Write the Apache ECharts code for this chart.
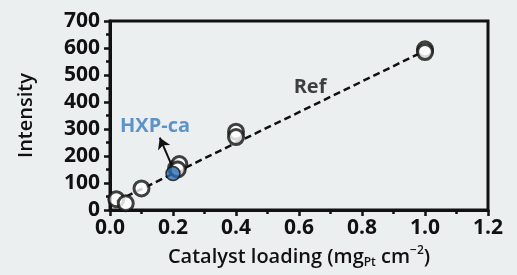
<!DOCTYPE html>
<html><head><meta charset="utf-8">
<script src="https://cdn.jsdelivr.net/npm/echarts@6/dist/echarts.min.js"></script>
<style>html,body{margin:0;padding:0;background:#ecefef;}#c{width:517px;height:275px;}</style>
</head><body><div id="c"></div>
<script>
// Data
const refX = [0.02, 0.05, 0.10, 0.21, 0.22, 0.215, 0.40, 0.40, 1.00, 1.00];
const refY = [40, 25, 80, 155, 170, 150, 290, 270, 595, 585];
const hxpX = [0.20];
const hxpY = [135];
const fitX = [0.02, 1.00];
const fitY = [32, 590];
const arrowFrom = [0.196, 165];
const arrowTo = [0.158, 268];
const refLabel = {x: 0.635, y: 455, text: 'Ref'};
const hxpLabel = {x: 0.143, y: 311, text: 'HXP-ca'};
const xTicks = [0.0, 0.2, 0.4, 0.6, 0.8, 1.0, 1.2];
const yTicks = [0, 100, 200, 300, 400, 500, 600, 700];

const FONT = '"Open Sans", "Noto Sans", sans-serif';
const chart = echarts.init(document.getElementById('c'));
const axisCommon = {
  axisLine: {show: true, onZero: false, lineStyle: {color: '#111', width: 3}},
  axisTick: {show: true, inside: false, length: 6, lineStyle: {color: '#111', width: 2.5}},
  minorTick: {show: true, splitNumber: 2, length: 4, lineStyle: {color: '#111', width: 2.5}},
  splitLine: {show: false},
  axisLabel: {color: '#111', fontFamily: FONT, fontWeight: 'bold', fontSize: 21}
};
chart.setOption({
  backgroundColor: '#ecefef',
  animation: false,
  grid: {left: 110, right: 29, top: 21, bottom: 65, show: true, borderColor: '#111', borderWidth: 3, backgroundColor: 'transparent'},
  xAxis: Object.assign({}, axisCommon, {
    type: 'value', min: xTicks[0], max: xTicks[xTicks.length - 1], interval: 0.2,
    axisLabel: Object.assign({}, axisCommon.axisLabel, {margin: 8, formatter: v => v.toFixed(1)}),
    name: '{a|Catalyst loading (mg}{sub|Pt}{a| cm}{sup|−2}{a|)}',
    nameLocation: 'middle', nameGap: 35,
    nameTextStyle: {rich: {
      a: {fontFamily: FONT, fontWeight: 600, fontSize: 20, color: '#111'},
      sub: {fontFamily: FONT, fontWeight: 600, fontSize: 12, color: '#111', verticalAlign: 'bottom', padding: [12, 0, 0, 0]},
      sup: {fontFamily: FONT, fontWeight: 600, fontSize: 12, color: '#111', verticalAlign: 'top', padding: [0, 0, 10, 0]}
    }}
  }),
  yAxis: Object.assign({}, axisCommon, {
    type: 'value', min: yTicks[0], max: yTicks[yTicks.length - 1], interval: 100,
    axisLabel: Object.assign({}, axisCommon.axisLabel, {margin: 10}),
    name: 'Intensity', nameLocation: 'middle', nameGap: 74, nameRotate: 90,
    nameTextStyle: {fontFamily: FONT, fontWeight: 600, fontSize: 20, color: '#111'}
  }),
  series: [
    {type: 'line', data: fitX.map((x, i) => [x, fitY[i]]), symbol: 'none',
     lineStyle: {color: '#111', width: 2.5, type: [7, 4]}, z: 2},
    {type: 'scatter', data: refX.map((x, i) => [x, refY[i]]), symbol: 'circle', symbolSize: 15,
     itemStyle: {color: '#fff', borderColor: '#111', borderWidth: 3}, z: 3},
    {type: 'scatter', data: hxpX.map((x, i) => [x, hxpY[i]]), symbol: 'circle', symbolSize: 14,
     itemStyle: {color: '#2f6db5', borderColor: '#111', borderWidth: 1.5}, z: 4,
     markLine: {silent: true, animation: false, symbol: ['none', 'arrow'], symbolSize: [10, 11],
       label: {show: false},
       lineStyle: {color: '#111', width: 2, type: 'solid'},
       data: [[{coord: arrowFrom}, {coord: arrowTo}]]}},
    {type: 'scatter', symbolSize: 0, z: 6,
     data: [
       {value: [refLabel.x, refLabel.y], label: {show: true, position: 'inside', formatter: refLabel.text, color: '#111', fontFamily: FONT, fontWeight: 'bold', fontSize: 20}},
       {value: [hxpLabel.x, hxpLabel.y], label: {show: true, position: 'inside', formatter: hxpLabel.text, color: '#3a7cc2', fontFamily: FONT, fontWeight: 'bold', fontSize: 20}}
     ]}
  ]
});
</script></body></html>
